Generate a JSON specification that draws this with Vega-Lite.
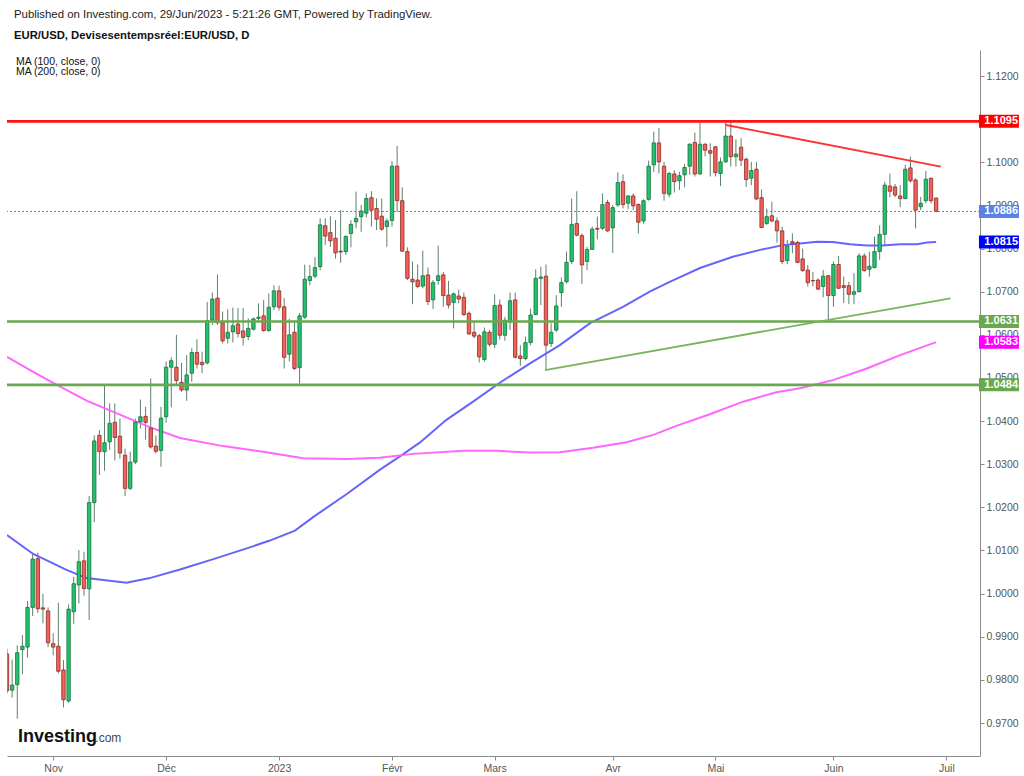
{
  "$schema": "https://vega.github.io/schema/vega-lite/v6.json",
  "width": 973,
  "height": 706,
  "autosize": {"type": "none"},
  "padding": {"left": 7, "top": 50, "right": 44, "bottom": 20},
  "background": "#ffffff",
  "view": {"stroke": null},
  "title": {
    "text": "Published on Investing.com, 29/Jun/2023 - 5:21:26 GMT, Powered by TradingView.",
    "subtitle": "EUR/USD, Devisesentempsréel:EUR/USD, D",
    "anchor": "start",
    "frame": "group",
    "dx": 7,
    "offset": 9,
    "font": "Liberation Sans",
    "fontSize": 11.4,
    "fontWeight": "normal",
    "color": "#222222",
    "subtitleFont": "Liberation Sans",
    "subtitleFontSize": 11.3,
    "subtitleFontWeight": "bold",
    "subtitleColor": "#111111",
    "subtitlePadding": 9
  },
  "datasets": {
    "candles": [
      {"i":0,"o":0.9860,"h":0.9872,"l":0.9768,"c":0.9775},
      {"i":1,"o":0.9776,"h":0.9847,"l":0.9759,"c":0.9788},
      {"i":2,"o":0.9789,"h":0.9880,"l":0.9710,"c":0.9863},
      {"i":3,"o":0.9870,"h":0.9904,"l":0.9813,"c":0.9878},
      {"i":4,"o":0.9876,"h":0.9983,"l":0.9852,"c":0.9968},
      {"i":5,"o":0.9968,"h":1.0095,"l":0.9948,"c":1.0080},
      {"i":6,"o":1.0081,"h":1.0095,"l":0.9955,"c":0.9965},
      {"i":7,"o":0.9967,"h":1.0000,"l":0.9931,"c":0.9964},
      {"i":8,"o":0.9960,"h":0.9968,"l":0.9876,"c":0.9886},
      {"i":9,"o":0.9884,"h":0.9908,"l":0.9857,"c":0.9876},
      {"i":10,"o":0.9878,"h":0.9979,"l":0.9815,"c":0.9820},
      {"i":11,"o":0.9823,"h":0.9846,"l":0.9736,"c":0.9754},
      {"i":12,"o":0.9751,"h":0.9975,"l":0.9747,"c":0.9964},
      {"i":13,"o":0.9958,"h":1.0039,"l":0.9930,"c":1.0023},
      {"i":14,"o":1.0020,"h":1.0101,"l":0.9977,"c":1.0074},
      {"i":15,"o":1.0076,"h":1.0097,"l":0.9995,"c":1.0012},
      {"i":16,"o":1.0011,"h":1.0226,"l":0.9939,"c":1.0211},
      {"i":17,"o":1.0211,"h":1.0367,"l":1.0166,"c":1.0354},
      {"i":18,"o":1.0367,"h":1.0379,"l":1.0275,"c":1.0329},
      {"i":19,"o":1.0329,"h":1.0486,"l":1.0285,"c":1.0350},
      {"i":20,"o":1.0352,"h":1.0441,"l":1.0333,"c":1.0395},
      {"i":21,"o":1.0397,"h":1.0441,"l":1.0309,"c":1.0362},
      {"i":22,"o":1.0365,"h":1.0406,"l":1.0313,"c":1.0326},
      {"i":23,"o":1.0321,"h":1.0336,"l":1.0226,"c":1.0244},
      {"i":24,"o":1.0244,"h":1.0329,"l":1.0240,"c":1.0305},
      {"i":25,"o":1.0305,"h":1.0406,"l":1.0300,"c":1.0398},
      {"i":26,"o":1.0398,"h":1.0450,"l":1.0383,"c":1.0410},
      {"i":27,"o":1.0411,"h":1.0433,"l":1.0357,"c":1.0397},
      {"i":28,"o":1.0384,"h":1.0499,"l":1.0336,"c":1.0340},
      {"i":29,"o":1.0342,"h":1.0367,"l":1.0325,"c":1.0330},
      {"i":30,"o":1.0332,"h":1.0433,"l":1.0294,"c":1.0407},
      {"i":31,"o":1.0410,"h":1.0538,"l":1.0396,"c":1.0525},
      {"i":32,"o":1.0525,"h":1.0548,"l":1.0432,"c":1.0540},
      {"i":33,"o":1.0525,"h":1.0600,"l":1.0486,"c":1.0494},
      {"i":34,"o":1.0490,"h":1.0535,"l":1.0468,"c":1.0472},
      {"i":35,"o":1.0472,"h":1.0553,"l":1.0447,"c":1.0507},
      {"i":36,"o":1.0511,"h":1.0569,"l":1.0491,"c":1.0559},
      {"i":37,"o":1.0559,"h":1.0590,"l":1.0522,"c":1.0532},
      {"i":38,"o":1.0536,"h":1.0561,"l":1.0511,"c":1.0531},
      {"i":39,"o":1.0535,"h":1.0676,"l":1.0531,"c":1.0633},
      {"i":40,"o":1.0634,"h":1.0698,"l":1.0623,"c":1.0683},
      {"i":41,"o":1.0685,"h":1.0740,"l":1.0623,"c":1.0628},
      {"i":42,"o":1.0628,"h":1.0654,"l":1.0580,"c":1.0586},
      {"i":43,"o":1.0592,"h":1.0659,"l":1.0580,"c":1.0606},
      {"i":44,"o":1.0607,"h":1.0663,"l":1.0582,"c":1.0621},
      {"i":45,"o":1.0625,"h":1.0662,"l":1.0594,"c":1.0603},
      {"i":46,"o":1.0609,"h":1.0662,"l":1.0575,"c":1.0594},
      {"i":47,"o":1.0596,"h":1.0638,"l":1.0588,"c":1.0615},
      {"i":48,"o":1.0613,"h":1.0640,"l":1.0610,"c":1.0637},
      {"i":49,"o":1.0638,"h":1.0673,"l":1.0630,"c":1.0641},
      {"i":50,"o":1.0644,"h":1.0681,"l":1.0607,"c":1.0610},
      {"i":51,"o":1.0610,"h":1.0696,"l":1.0607,"c":1.0664},
      {"i":52,"o":1.0665,"h":1.0715,"l":1.0657,"c":1.0702},
      {"i":53,"o":1.0702,"h":1.0714,"l":1.0656,"c":1.0664},
      {"i":54,"o":1.0665,"h":1.0685,"l":1.0522,"c":1.0548},
      {"i":55,"o":1.0555,"h":1.0637,"l":1.0538,"c":1.0600},
      {"i":56,"o":1.0606,"h":1.0632,"l":1.0518,"c":1.0522},
      {"i":57,"o":1.0524,"h":1.0651,"l":1.0487,"c":1.0644},
      {"i":58,"o":1.0641,"h":1.0763,"l":1.0637,"c":1.0729},
      {"i":59,"o":1.0726,"h":1.0762,"l":1.0715,"c":1.0735},
      {"i":60,"o":1.0736,"h":1.0780,"l":1.0731,"c":1.0756},
      {"i":61,"o":1.0758,"h":1.0870,"l":1.0750,"c":1.0855},
      {"i":62,"o":1.0853,"h":1.0870,"l":1.0808,"c":1.0829},
      {"i":63,"o":1.0837,"h":1.0875,"l":1.0804,"c":1.0818},
      {"i":64,"o":1.0824,"h":1.0866,"l":1.0777,"c":1.0790},
      {"i":65,"o":1.0794,"h":1.0889,"l":1.0767,"c":1.0792},
      {"i":66,"o":1.0793,"h":1.0831,"l":1.0785,"c":1.0828},
      {"i":67,"o":1.0835,"h":1.0866,"l":1.0803,"c":1.0856},
      {"i":68,"o":1.0862,"h":1.0932,"l":1.0847,"c":1.0870},
      {"i":69,"o":1.0874,"h":1.0901,"l":1.0839,"c":1.0887},
      {"i":70,"o":1.0882,"h":1.0928,"l":1.0872,"c":1.0916},
      {"i":71,"o":1.0918,"h":1.0933,"l":1.0851,"c":1.0889},
      {"i":72,"o":1.0893,"h":1.0916,"l":1.0843,"c":1.0868},
      {"i":73,"o":1.0875,"h":1.0916,"l":1.0841,"c":1.0845},
      {"i":74,"o":1.0851,"h":1.0870,"l":1.0804,"c":1.0864},
      {"i":75,"o":1.0865,"h":1.1003,"l":1.0851,"c":1.0991},
      {"i":76,"o":1.0991,"h":1.1038,"l":1.0885,"c":1.0911},
      {"i":77,"o":1.0911,"h":1.0942,"l":1.0793,"c":1.0794},
      {"i":78,"o":1.0793,"h":1.0803,"l":1.0727,"c":1.0731},
      {"i":79,"o":1.0729,"h":1.0770,"l":1.0671,"c":1.0723},
      {"i":80,"o":1.0727,"h":1.0763,"l":1.0708,"c":1.0712},
      {"i":81,"o":1.0713,"h":1.0795,"l":1.0708,"c":1.0737},
      {"i":82,"o":1.0739,"h":1.0756,"l":1.0669,"c":1.0677},
      {"i":83,"o":1.0681,"h":1.0727,"l":1.0660,"c":1.0721},
      {"i":84,"o":1.0726,"h":1.0807,"l":1.0716,"c":1.0737},
      {"i":85,"o":1.0739,"h":1.0746,"l":1.0665,"c":1.0691},
      {"i":86,"o":1.0692,"h":1.0725,"l":1.0661,"c":1.0669},
      {"i":87,"o":1.0675,"h":1.0698,"l":1.0615,"c":1.0695},
      {"i":88,"o":1.0690,"h":1.0705,"l":1.0673,"c":1.0683},
      {"i":89,"o":1.0687,"h":1.0698,"l":1.0644,"c":1.0647},
      {"i":90,"o":1.0650,"h":1.0654,"l":1.0600,"c":1.0602},
      {"i":91,"o":1.0606,"h":1.0630,"l":1.0592,"c":1.0597},
      {"i":92,"o":1.0598,"h":1.0602,"l":1.0536,"c":1.0549},
      {"i":93,"o":1.0543,"h":1.0617,"l":1.0538,"c":1.0607},
      {"i":94,"o":1.0606,"h":1.0611,"l":1.0573,"c":1.0578},
      {"i":95,"o":1.0578,"h":1.0694,"l":1.0569,"c":1.0668},
      {"i":96,"o":1.0669,"h":1.0682,"l":1.0589,"c":1.0599},
      {"i":97,"o":1.0599,"h":1.0642,"l":1.0586,"c":1.0634},
      {"i":98,"o":1.0630,"h":1.0698,"l":1.0611,"c":1.0679},
      {"i":99,"o":1.0681,"h":1.0698,"l":1.0545,"c":1.0548},
      {"i":100,"o":1.0551,"h":1.0576,"l":1.0528,"c":1.0545},
      {"i":101,"o":1.0545,"h":1.0596,"l":1.0541,"c":1.0582},
      {"i":102,"o":1.0582,"h":1.0661,"l":1.0576,"c":1.0646},
      {"i":103,"o":1.0647,"h":1.0752,"l":1.0646,"c":1.0731},
      {"i":104,"o":1.0731,"h":1.0758,"l":1.0669,"c":1.0734},
      {"i":105,"o":1.0736,"h":1.0763,"l":1.0518,"c":1.0576},
      {"i":106,"o":1.0580,"h":1.0627,"l":1.0572,"c":1.0606},
      {"i":107,"o":1.0611,"h":1.0692,"l":1.0607,"c":1.0667},
      {"i":108,"o":1.0698,"h":1.0733,"l":1.0665,"c":1.0721},
      {"i":109,"o":1.0723,"h":1.0793,"l":1.0719,"c":1.0768},
      {"i":110,"o":1.0770,"h":1.0916,"l":1.0764,"c":1.0856},
      {"i":111,"o":1.0858,"h":1.0933,"l":1.0828,"c":1.0831},
      {"i":112,"o":1.0830,"h":1.0835,"l":1.0718,"c":1.0762},
      {"i":113,"o":1.0770,"h":1.0804,"l":1.0750,"c":1.0798},
      {"i":114,"o":1.0798,"h":1.0851,"l":1.0797,"c":1.0845},
      {"i":115,"o":1.0847,"h":1.0874,"l":1.0821,"c":1.0845},
      {"i":116,"o":1.0847,"h":1.0928,"l":1.0843,"c":1.0902},
      {"i":117,"o":1.0907,"h":1.0913,"l":1.0839,"c":1.0841},
      {"i":118,"o":1.0848,"h":1.0901,"l":1.0790,"c":1.0895},
      {"i":119,"o":1.0901,"h":1.0977,"l":1.0897,"c":1.0953},
      {"i":120,"o":1.0955,"h":1.0972,"l":1.0893,"c":1.0902},
      {"i":121,"o":1.0905,"h":1.0924,"l":1.0891,"c":1.0922},
      {"i":122,"o":1.0922,"h":1.0928,"l":1.0889,"c":1.0899},
      {"i":123,"o":1.0902,"h":1.0905,"l":1.0835,"c":1.0861},
      {"i":124,"o":1.0864,"h":1.0914,"l":1.0858,"c":1.0911},
      {"i":125,"o":1.0914,"h":1.1004,"l":1.0911,"c":1.0991},
      {"i":126,"o":1.0994,"h":1.1071,"l":1.0978,"c":1.1045},
      {"i":127,"o":1.1045,"h":1.1079,"l":1.0974,"c":1.1001},
      {"i":128,"o":1.0991,"h":1.1001,"l":1.0911,"c":1.0928},
      {"i":129,"o":1.0926,"h":1.0978,"l":1.0919,"c":1.0974},
      {"i":130,"o":1.0973,"h":1.0982,"l":1.0930,"c":1.0955},
      {"i":131,"o":1.0957,"h":1.0978,"l":1.0936,"c":1.0969},
      {"i":132,"o":1.0971,"h":1.0996,"l":1.0942,"c":1.0988},
      {"i":133,"o":1.0991,"h":1.1044,"l":1.0971,"c":1.1042},
      {"i":134,"o":1.1046,"h":1.1069,"l":1.0967,"c":1.0973},
      {"i":135,"o":1.0973,"h":1.1094,"l":1.0971,"c":1.1042},
      {"i":136,"o":1.1042,"h":1.1044,"l":1.1014,"c":1.1028},
      {"i":137,"o":1.1027,"h":1.1044,"l":1.0967,"c":1.1021},
      {"i":138,"o":1.1036,"h":1.1038,"l":1.0967,"c":1.0976},
      {"i":139,"o":1.0974,"h":1.1011,"l":1.0945,"c":1.1001},
      {"i":140,"o":1.1001,"h":1.1094,"l":1.0999,"c":1.1061},
      {"i":141,"o":1.1061,"h":1.1094,"l":1.0990,"c":1.1013},
      {"i":142,"o":1.1013,"h":1.1053,"l":1.0990,"c":1.1019},
      {"i":143,"o":1.1035,"h":1.1056,"l":1.0991,"c":1.1005},
      {"i":144,"o":1.1007,"h":1.1011,"l":1.0943,"c":1.0960},
      {"i":145,"o":1.0963,"h":1.1001,"l":1.0947,"c":1.0981},
      {"i":146,"o":1.0984,"h":1.1001,"l":1.0913,"c":1.0915},
      {"i":147,"o":1.0918,"h":1.0937,"l":1.0848,"c":1.0849},
      {"i":148,"o":1.0858,"h":1.0893,"l":1.0855,"c":1.0874},
      {"i":149,"o":1.0876,"h":1.0909,"l":1.0861,"c":1.0864},
      {"i":150,"o":1.0864,"h":1.0872,"l":1.0814,"c":1.0841},
      {"i":151,"o":1.0841,"h":1.0851,"l":1.0764,"c":1.0770},
      {"i":152,"o":1.0772,"h":1.0820,"l":1.0764,"c":1.0806},
      {"i":153,"o":1.0816,"h":1.0835,"l":1.0789,"c":1.0812},
      {"i":154,"o":1.0814,"h":1.0818,"l":1.0766,"c":1.0768},
      {"i":155,"o":1.0776,"h":1.0800,"l":1.0746,"c":1.0749},
      {"i":156,"o":1.0750,"h":1.0762,"l":1.0712,"c":1.0721},
      {"i":157,"o":1.0726,"h":1.0746,"l":1.0712,"c":1.0725},
      {"i":158,"o":1.0727,"h":1.0731,"l":1.0704,"c":1.0706},
      {"i":159,"o":1.0712,"h":1.0750,"l":1.0687,"c":1.0736},
      {"i":160,"o":1.0737,"h":1.0739,"l":1.0636,"c":1.0691},
      {"i":161,"o":1.0691,"h":1.0770,"l":1.0665,"c":1.0763},
      {"i":162,"o":1.0763,"h":1.0783,"l":1.0706,"c":1.0708},
      {"i":163,"o":1.0714,"h":1.0735,"l":1.0674,"c":1.0710},
      {"i":164,"o":1.0714,"h":1.0723,"l":1.0671,"c":1.0694},
      {"i":165,"o":1.0694,"h":1.0743,"l":1.0671,"c":1.0700},
      {"i":166,"o":1.0700,"h":1.0789,"l":1.0698,"c":1.0783},
      {"i":167,"o":1.0783,"h":1.0789,"l":1.0746,"c":1.0749},
      {"i":168,"o":1.0752,"h":1.0793,"l":1.0735,"c":1.0759},
      {"i":169,"o":1.0756,"h":1.0828,"l":1.0754,"c":1.0793},
      {"i":170,"o":1.0793,"h":1.0854,"l":1.0774,"c":1.0833},
      {"i":171,"o":1.0833,"h":1.0955,"l":1.0806,"c":1.0947},
      {"i":172,"o":1.0945,"h":1.0974,"l":1.0919,"c":1.0933},
      {"i":173,"o":1.0943,"h":1.0950,"l":1.0919,"c":1.0924},
      {"i":174,"o":1.0922,"h":1.0947,"l":1.0896,"c":1.0916},
      {"i":175,"o":1.0916,"h":1.0994,"l":1.0914,"c":1.0984},
      {"i":176,"o":1.0987,"h":1.1013,"l":1.0953,"c":1.0957},
      {"i":177,"o":1.0959,"h":1.0963,"l":1.0847,"c":1.0889},
      {"i":178,"o":1.0897,"h":1.0920,"l":1.0889,"c":1.0905},
      {"i":179,"o":1.0911,"h":1.0980,"l":1.0905,"c":1.0961},
      {"i":180,"o":1.0963,"h":1.0964,"l":1.0905,"c":1.0911},
      {"i":181,"o":1.0917,"h":1.0919,"l":1.0884,"c":1.0886}
    ],
    "ma": [
      {"ma":"MA 100","i":0,"p":1.0136},{"ma":"MA 100","i":5.1,"p":1.0092},{"ma":"MA 100","i":11.6,"p":1.0055},
      {"ma":"MA 100","i":15.5,"p":1.0036},{"ma":"MA 100","i":23.3,"p":1.0025},{"ma":"MA 100","i":27.8,"p":1.0036},
      {"ma":"MA 100","i":33.7,"p":1.0056},{"ma":"MA 100","i":40.2,"p":1.0080},{"ma":"MA 100","i":46.7,"p":1.0105},
      {"ma":"MA 100","i":51.2,"p":1.0123},{"ma":"MA 100","i":56.1,"p":1.0146},{"ma":"MA 100","i":59.7,"p":1.0178},
      {"ma":"MA 100","i":66.2,"p":1.0231},{"ma":"MA 100","i":72.6,"p":1.0287},{"ma":"MA 100","i":76.9,"p":1.0321},
      {"ma":"MA 100","i":80.4,"p":1.0350},{"ma":"MA 100","i":85.6,"p":1.0403},{"ma":"MA 100","i":90.8,"p":1.0445},
      {"ma":"MA 100","i":96.0,"p":1.0489},{"ma":"MA 100","i":101.9,"p":1.0534},{"ma":"MA 100","i":107.7,"p":1.0576},
      {"ma":"MA 100","i":113.6,"p":1.0627},{"ma":"MA 100","i":120.0,"p":1.0665},{"ma":"MA 100","i":125.2,"p":1.0700},
      {"ma":"MA 100","i":129.1,"p":1.0723},{"ma":"MA 100","i":135.0,"p":1.0755},{"ma":"MA 100","i":141.4,"p":1.0781},
      {"ma":"MA 100","i":146.7,"p":1.0797},{"ma":"MA 100","i":151.2,"p":1.0808},{"ma":"MA 100","i":154.5,"p":1.0812},
      {"ma":"MA 100","i":157.8,"p":1.0816},{"ma":"MA 100","i":160.9,"p":1.0815},{"ma":"MA 100","i":164.2,"p":1.0810},
      {"ma":"MA 100","i":167.5,"p":1.0807},{"ma":"MA 100","i":170.6,"p":1.0807},{"ma":"MA 100","i":174.0,"p":1.0810},
      {"ma":"MA 100","i":177.3,"p":1.0810},{"ma":"MA 100","i":179.2,"p":1.0814},{"ma":"MA 100","i":181,"p":1.0815},
      {"ma":"MA 200","i":0,"p":1.0549},{"ma":"MA 200","i":4.5,"p":1.0518},{"ma":"MA 200","i":8.9,"p":1.0489},
      {"ma":"MA 200","i":15.6,"p":1.0447},{"ma":"MA 200","i":21.4,"p":1.0418},{"ma":"MA 200","i":27.8,"p":1.0386},
      {"ma":"MA 200","i":33.7,"p":1.0361},{"ma":"MA 200","i":42.1,"p":1.0342},{"ma":"MA 200","i":49.9,"p":1.0329},
      {"ma":"MA 200","i":57.7,"p":1.0314},{"ma":"MA 200","i":66.2,"p":1.0312},{"ma":"MA 200","i":72.6,"p":1.0315},
      {"ma":"MA 200","i":79.1,"p":1.0324},{"ma":"MA 200","i":88.9,"p":1.0331},{"ma":"MA 200","i":95.4,"p":1.0331},
      {"ma":"MA 200","i":101.9,"p":1.0327},{"ma":"MA 200","i":107.7,"p":1.0328},{"ma":"MA 200","i":114.2,"p":1.0338},
      {"ma":"MA 200","i":120.7,"p":1.0351},{"ma":"MA 200","i":125.9,"p":1.0368},{"ma":"MA 200","i":130.4,"p":1.0389},
      {"ma":"MA 200","i":136.9,"p":1.0416},{"ma":"MA 200","i":143.4,"p":1.0445},{"ma":"MA 200","i":149.9,"p":1.0467},
      {"ma":"MA 200","i":154.5,"p":1.0476},{"ma":"MA 200","i":160.9,"p":1.0495},{"ma":"MA 200","i":167.5,"p":1.0522},
      {"ma":"MA 200","i":174.0,"p":1.0553},{"ma":"MA 200","i":181,"p":1.0583}
    ],
    "levels": [
      {"name":"Résistance","p":1.1095},
      {"name":"Support 1","p":1.0631},
      {"name":"Support 2","p":1.0484}
    ],
    "trend": [
      {"line":"Baissière","i":140.05,"p":1.10865},
      {"line":"Baissière","i":181.9,"p":1.09898},
      {"line":"Haussière","i":104.8,"p":1.05184},
      {"line":"Haussière","i":183.8,"p":1.06847}
    ],
    "tags": [
      {"name":"Résistance","p":1.1095},
      {"name":"Dernier","p":1.0886},
      {"name":"MA 100","p":1.0815},
      {"name":"Support 1","p":1.0631},
      {"name":"MA 200","p":1.0583},
      {"name":"Support 2","p":1.0484}
    ]
  },
  "resolve": {"scale": {"color": "independent"}},
  "layer": [
    {
      "data": {"name": "candles"},
      "mark": {"type": "rule", "color": "#5e806b", "strokeWidth": 1, "clip": true},
      "encoding": {
        "x": {
          "field": "i", "type": "quantitative",
          "scale": {"domain": [0, 189.55], "nice": false, "zero": false, "padding": 0},
          "axis": {
            "orient": "bottom", "title": null, "grid": false,
            "values": [9, 31, 53, 75, 95, 118, 138, 161, 183],
            "labelExpr": "datum.value == 9 ? 'Nov' : datum.value == 31 ? 'Déc' : datum.value == 53 ? '2023' : datum.value == 75 ? 'Févr' : datum.value == 95 ? 'Mars' : datum.value == 118 ? 'Avr' : datum.value == 138 ? 'Mai' : datum.value == 161 ? 'Juin' : 'Juil'",
            "domainColor": "#8c8c8c", "tickColor": "#8c8c8c", "tickSize": 4,
            "labelColor": "#555555", "labelFont": "Liberation Sans", "labelFontSize": 10.5, "labelPadding": 3
          }
        },
        "y": {
          "field": "l", "type": "quantitative",
          "scale": {"domain": [0.96235, 1.12604], "nice": false, "zero": false, "padding": 0},
          "axis": {
            "orient": "right", "title": null, "grid": false,
            "values": [0.97, 0.98, 0.99, 1.0, 1.01, 1.02, 1.03, 1.04, 1.05, 1.06, 1.07, 1.08, 1.09, 1.1, 1.11, 1.12],
            "format": ".4f",
            "domainColor": "#8c8c8c", "tickColor": "#8c8c8c", "tickSize": 4,
            "labelColor": "#555555", "labelFont": "Liberation Sans", "labelFontSize": 10.5, "labelPadding": 2
          }
        },
        "y2": {"field": "h"}
      }
    },
    {
      "data": {"name": "ma"},
      "mark": {"type": "line", "strokeWidth": 2, "clip": true},
      "encoding": {
        "x": {"field": "i", "type": "quantitative"},
        "y": {"field": "p", "type": "quantitative"},
        "color": {
          "field": "ma", "type": "nominal", "legend": null,
          "scale": {"domain": ["MA 100", "MA 200"], "range": ["#6565fb", "#ff66ff"]}
        }
      }
    },
    {
      "data": {"name": "candles"},
      "mark": {"type": "bar", "width": 3.4, "strokeWidth": 0.8, "clip": true},
      "encoding": {
        "x": {"field": "i", "type": "quantitative"},
        "y": {"field": "o", "type": "quantitative"},
        "y2": {"field": "c"},
        "color": {"condition": {"test": "datum.c >= datum.o", "value": "#20c46e"}, "value": "#f2625a"},
        "stroke": {"condition": {"test": "datum.c >= datum.o", "value": "#1b6e3c"}, "value": "#8c2a22"}
      }
    },
    {
      "data": {"name": "levels"},
      "mark": {"type": "rule", "strokeWidth": 2.6},
      "encoding": {
        "y": {"field": "p", "type": "quantitative"},
        "color": {
          "field": "name", "type": "nominal", "legend": null,
          "scale": {"domain": ["Résistance", "Support 1", "Support 2"], "range": ["#ff1414", "#6aa84f", "#6aa84f"]}
        }
      }
    },
    {
      "data": {"values": [{}]},
      "mark": {"type": "rule", "color": "#5b7fe8", "strokeWidth": 1, "strokeDash": [2, 2]},
      "encoding": {
        "y": {"datum": 1.0886, "type": "quantitative"}
      }
    },
    {
      "data": {"name": "trend"},
      "mark": {"type": "line", "strokeWidth": 1.8},
      "encoding": {
        "x": {"field": "i", "type": "quantitative"},
        "y": {"field": "p", "type": "quantitative"},
        "color": {
          "field": "line", "type": "nominal", "legend": null,
          "scale": {"domain": ["Baissière", "Haussière"], "range": ["#ff3030", "#78b45c"]}
        }
      }
    },
    {
      "data": {"name": "tags"},
      "mark": {"type": "tick", "orient": "horizontal", "size": 40, "thickness": 13, "opacity": 1, "clip": false},
      "encoding": {
        "x": {"datum": 193.24, "type": "quantitative"},
        "y": {"field": "p", "type": "quantitative"},
        "color": {
          "field": "name", "type": "nominal", "legend": null,
          "scale": {
            "domain": ["Résistance", "Dernier", "MA 100", "Support 1", "MA 200", "Support 2"],
            "range": ["#ff0000", "#5b80e6", "#0000ff", "#6aa84f", "#ff00ff", "#6aa84f"]
          }
        }
      }
    },
    {
      "data": {"name": "tags"},
      "mark": {"type": "text", "align": "left", "baseline": "middle", "font": "Liberation Sans", "fontSize": 11, "fontWeight": "bold", "color": "#ffffff", "clip": false},
      "encoding": {
        "x": {"datum": 190.4, "type": "quantitative"},
        "y": {"field": "p", "type": "quantitative"},
        "text": {"field": "p", "format": ".4f"}
      }
    },
    {
      "data": {"values": [{}]},
      "mark": {"type": "text", "align": "left", "baseline": "top", "font": "Liberation Sans", "fontSize": 10.5, "lineHeight": 10, "color": "#111111"},
      "encoding": {
        "x": {"datum": 1.73, "type": "quantitative"},
        "y": {"datum": 1.1245, "type": "quantitative"},
        "text": {"value": ["MA (100, close, 0)", "MA (200, close, 0)"]}
      }
    },
    {
      "data": {"values": [{}]},
      "mark": {"type": "text", "align": "left", "baseline": "alphabetic", "font": "Liberation Sans", "fontSize": 18, "fontWeight": "bold", "color": "#111111"},
      "encoding": {
        "x": {"datum": 2.12, "type": "quantitative"},
        "y": {"datum": 0.9657, "type": "quantitative"},
        "text": {"value": "Investing"}
      }
    },
    {
      "data": {"values": [{}]},
      "mark": {"type": "text", "align": "left", "baseline": "alphabetic", "font": "Liberation Sans", "fontSize": 12, "color": "#444444"},
      "encoding": {
        "x": {"datum": 17.2, "type": "quantitative"},
        "y": {"datum": 0.9657, "type": "quantitative"},
        "text": {"value": ".com"}
      }
    }
  ]
}
